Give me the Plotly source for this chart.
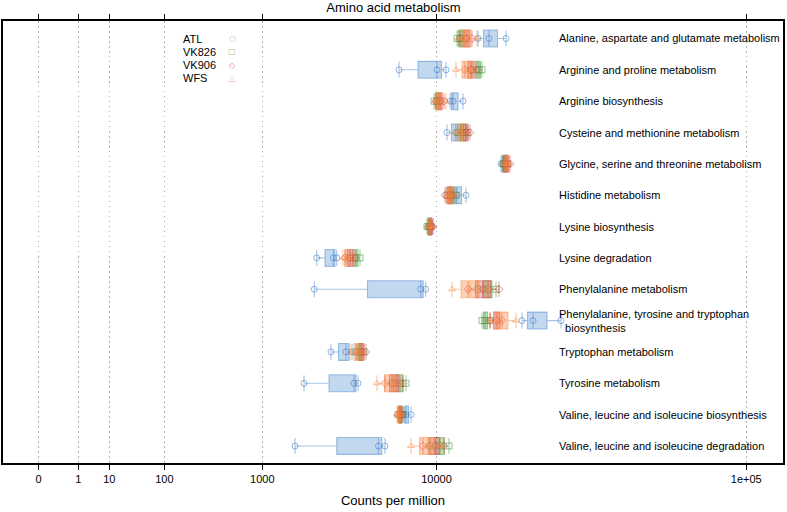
import plotly.graph_objects as go

# ---------------- data (counts per million) ----------------
pathways = [
    "Alanine, aspartate and glutamate metabolism",
    "Arginine and proline metabolism",
    "Arginine biosynthesis",
    "Cysteine and methionine metabolism",
    "Glycine, serine and threonine metabolism",
    "Histidine metabolism",
    "Lysine biosynthesis",
    "Lysine degradation",
    "Phenylalanine metabolism",
    "Phenylalanine, tyrosine and tryptophan<br>  biosynthesis",
    "Tryptophan metabolism",
    "Tyrosine metabolism",
    "Valine, leucine and isoleucine biosynthesis",
    "Valine, leucine and isoleucine degradation",
]

groups = ["ATL", "VK826", "VK906", "WFS"]

ATL = [
    [14870, 16415, 19036],
    [6732, 10052, 10990],
    [11428, 11766, 12943],
    [11099, 12109, 13310],
    [18236, 18553, 18874],
    [11649, 12225, 13310],
    [9172, 9364, 9555],
    [2387, 3010, 3151],
    [2306, 8504, 8959],
    [21777, 23833, 29704],
    [2917, 3563, 3850],
    [1980, 3949, 4154],
    [7034, 7270, 7672],
    [1725, 5326, 5745],
]
VK826 = [
    [12225, 12578, 13186],
    [14073, 15006, 15418],
    [9751, 10052, 10357],
    [12341, 12943, 13565],
    [18553, 18874, 19362],
    [11099, 11537, 12109],
    [9078, 9269, 9459],
    [3753, 4049, 4258],
    [14870, 16270, 17459],
    [15418, 15843, 16561],
    [4049, 4258, 4473],
    [6224, 6806, 7270],
    [6657, 6882, 7034],
    [9364, 10357, 11317],
]
VK906 = [
    [12578, 13435, 14073],
    [13186, 13946, 14736],
    [9950, 10357, 10777],
    [12701, 13310, 13818],
    [18714, 19199, 19698],
    [10883, 11317, 11766],
    [9269, 9459, 9653],
    [3517, 3753, 3999],
    [13565, 15556, 17921],
    [16561, 17612, 18395],
    [4102, 4364, 4586],
    [5745, 6365, 7034],
    [6657, 6806, 6958],
    [8711, 9850, 10777],
]
WFS = [
    [12341, 13186, 14736],
    [12109, 13565, 14335],
    [9850, 10153, 10990],
    [11995, 12578, 13310],
    [18553, 19036, 19527],
    [10990, 11428, 11995],
    [9172, 9364, 9653],
    [3426, 3610, 3850],
    [11649, 13818, 16270],
    [16561, 18075, 20716],
    [3753, 4154, 4364],
    [5232, 6224, 6806],
    [6584, 6732, 6958],
    [7672, 9172, 10357],
]

tick_values = [0, 1, 10, 100, 1000, 10000, 100000]
tick_labels = ["0", "1", "10", "100", "1000", "10000", "1e+05"]

# ---------------- styling ----------------
series = [ATL, VK826, VK906, WFS]
line_cols = ["rgba(60,125,200,0.45)", "rgba(55,150,55,0.45)",
             "rgba(228,45,65,0.45)", "rgba(245,135,55,0.45)"]
fill_cols = ["rgba(120,168,220,0.45)", "rgba(95,175,85,0.40)",
             "rgba(235,75,75,0.35)", "rgba(247,140,70,0.40)"]
mark_cols = ["rgba(60,120,195,0.55)", "rgba(55,145,55,0.55)",
             "rgba(225,50,70,0.55)", "rgba(245,135,55,0.55)"]
symbols = ["circle-open", "square-open", "diamond-open", "triangle-up-open"]
legend_cols = ["#9DBDE0", "#9CCB94", "#F08A90", "#F7B58A"]
legend_glyphs = ["○", "□", "◇", "△"]


def tr(v):
    # fourth-root scale used on the x axis
    return v ** 0.25


fig = go.Figure()
for g, data, lc, fc, mc, sym in zip(groups, series, line_cols, fill_cols, mark_cols, symbols):
    xs, ys = [], []
    for i, vals in enumerate(data):
        for v in vals:
            xs.append(tr(v))
            ys.append(i)
    fig.add_trace(go.Box(
        x=xs, y=ys, name=g, orientation="h",
        boxpoints="all", jitter=0, pointpos=0,
        quartilemethod="inclusive",
        width=0.54, whiskerwidth=0.95,
        line=dict(color=lc, width=1.1),
        fillcolor=fc,
        marker=dict(symbol=sym, size=6, color=mc, line=dict(width=1, color=mc)),
        showlegend=False,
    ))

PX_L, PX_R, PX_T, PX_B = 3, 783, 20.5, 463
W, H = 787, 512

annotations = []
for i, name in enumerate(pathways):
    annotations.append(dict(
        x=(557 - PX_L) / (PX_R - PX_L), xref="paper", y=i, yref="y",
        text=name, showarrow=False, xanchor="left", yanchor="middle", align="left",
        font=dict(family="Liberation Sans, Arial, sans-serif", size=11, color="#000"),
    ))

leg_y = [38.5, 51.5, 65, 78]
for g, py, col, glyph in zip(groups, leg_y, legend_cols, legend_glyphs):
    yp = (PX_B - py) / (PX_B - PX_T)
    annotations.append(dict(
        x=(181 - PX_L) / (PX_R - PX_L), xref="paper", y=yp, yref="paper",
        text=g, showarrow=False, xanchor="left", yanchor="middle",
        font=dict(family="Liberation Sans, Arial, sans-serif", size=11, color="#000"),
    ))
    annotations.append(dict(
        x=(232 - PX_L) / (PX_R - PX_L), xref="paper", y=yp, yref="paper",
        text=glyph, showarrow=False, xanchor="center", yanchor="middle",
        font=dict(family="DejaVu Sans, sans-serif", size=8, color=col),
    ))

t_left = (PX_L - 38.5) / 39.8
t_right = (PX_R - 38.5) / 39.8
row_px = 31.38
y_top = (PX_T - 38) / row_px
y_bot = (PX_B - 38) / row_px

fig.update_layout(
    width=W, height=H,
    margin=dict(l=PX_L, r=W - PX_R, t=PX_T, b=H - PX_B),
    paper_bgcolor="white", plot_bgcolor="white",
    boxmode="overlay",
    title=dict(text="Amino acid metabolism", x=0.5, xanchor="center",
               y=1 - 7 / H, yanchor="middle", yref="container",
               font=dict(family="Liberation Sans, Arial, sans-serif", size=13, color="#000")),
    font=dict(family="Liberation Sans, Arial, sans-serif", size=11, color="#000"),
    xaxis=dict(
        range=[t_left, t_right],
        tickmode="array",
        tickvals=[tr(v) for v in tick_values],
        ticktext=tick_labels,
        ticks="outside", ticklen=5, tickcolor="#000", tickwidth=1,
        showline=True, linecolor="#000", linewidth=1.5, mirror="ticks",
        showgrid=True, gridcolor="#B0B0B0", griddash="1.5px,3.5px", gridwidth=1,
        zeroline=False,
        tickfont=dict(size=11),
        title=dict(text="Counts per million", standoff=12,
                   font=dict(size=13)),
    ),
    yaxis=dict(
        range=[y_bot, y_top],
        showticklabels=False, ticks="",
        showline=True, linecolor="#000", linewidth=1.5, mirror=True,
        showgrid=False, zeroline=False,
    ),
    annotations=annotations,
)

fig.write_html("out.html",
               config={"displayModeBar": False},
               post_script="document.body.style.margin='0px';document.body.style.overflow='hidden';")
